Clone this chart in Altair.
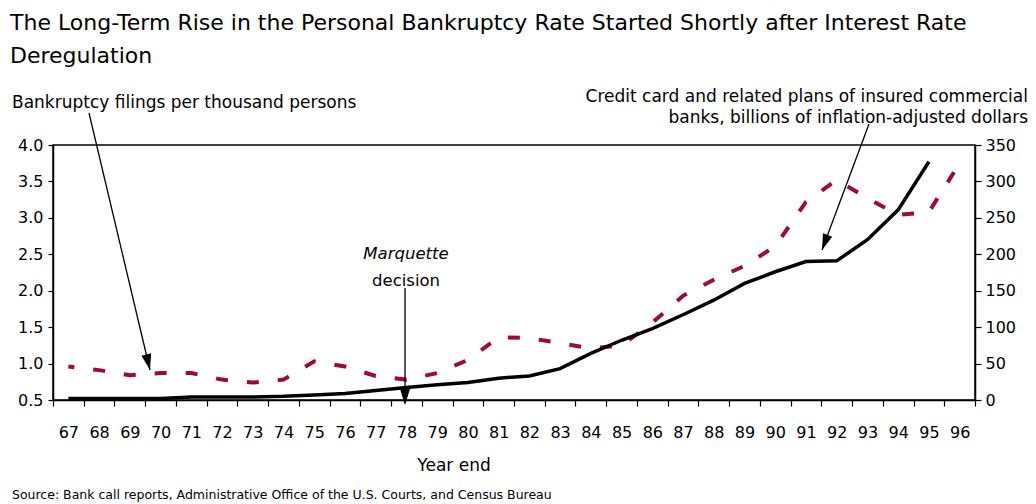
import altair as alt
import pandas as pd

# ---- data ----
years = ["67", "68", "69", "70", "71", "72", "73", "74", "75", "76",
         "77", "78", "79", "80", "81", "82", "83", "84", "85", "86",
         "87", "88", "89", "90", "91", "92", "93", "94", "95", "96"]
bankruptcy_rate = [0.96, 0.91, 0.84, 0.87, 0.87, 0.78, 0.74, 0.78, 1.03, 0.96,
                   0.83, 0.78, 0.87, 1.05, 1.36, 1.35, 1.28, 1.21, 1.25, 1.56,
                   1.93, 2.15, 2.34, 2.61, 3.22, 3.52, 3.27, 3.04, 3.08, 3.75]
credit_card = [2, 2, 2, 2, 4, 4, 4, 5, 7, 9,
               13, 17, 21, 24, 30, 33, 43, 64, 82, 98,
               117, 137, 160, 176, 190, 191, 220, 261, 327, None]
left_ticks = [0.5, 1.0, 1.5, 2.0, 2.5, 3.0, 3.5, 4.0]
right_ticks = [0, 50, 100, 150, 200, 250, 300, 350]

title_lines = ["The Long-Term Rise in the Personal Bankruptcy Rate Started Shortly after Interest Rate",
               "Deregulation"]
left_label = "Bankruptcy filings per thousand persons"
right_label = ["Credit card and related plans of insured commercial",
               "banks, billions of inflation-adjusted dollars"]
event_label = ["Marquette", "decision"]
x_title = "Year end"
source = "Source: Bank call reports, Administrative Office of the U.S. Courts, and Census Bureau"

df = pd.DataFrame({"year": years, "rate": bankruptcy_rate, "credit": credit_card})
one = pd.DataFrame({"k": [0]})

FONT = "DejaVu Sans"
W, H = 922, 255

x_enc = alt.X(
    "year:O",
    sort=years,
    bandPosition=0.5,
    scale=alt.Scale(type="band", paddingInner=0, paddingOuter=0),
    axis=alt.Axis(title=None, labelAngle=0, tickBand="extent", labelFont=FONT,
                  labelFontSize=16, labelColor="black", domainColor="black",
                  tickColor="black", tickSize=6, labelPadding=26,
                  labelBaseline="middle", domainWidth=1.5, tickWidth=1.2),
)

rate_line = alt.Chart(df).mark_line(
    color="#9e0b2e", strokeWidth=4, strokeDash=[12, 19], strokeDashOffset=6
).encode(
    x=x_enc,
    y=alt.Y("rate:Q", scale=alt.Scale(domain=[0.5, 4.0], nice=False, zero=False),
            axis=alt.Axis(title=None, orient="left", values=left_ticks, format=".1f",
                          grid=False, labelFont=FONT, labelFontSize=16,
                          labelColor="black", domainColor="black", tickColor="black",
                          tickSize=5, labelPadding=5, domainWidth=1.5, tickWidth=1.2)),
)

credit_line = alt.Chart(df).mark_line(color="black", strokeWidth=3.5).encode(
    x=x_enc,
    y=alt.Y("credit:Q", scale=alt.Scale(domain=[0, 350], nice=False),
            axis=alt.Axis(title=None, orient="right", values=right_ticks, format="d",
                          grid=False, labelFont=FONT, labelFontSize=16,
                          labelColor="black", domainColor="black", tickColor="black",
                          tickSize=6, labelPadding=4, domainWidth=1.5, tickWidth=1.2)),
)


def txt(text, x, y, size, align="left", style="normal", font=FONT, weight="normal"):
    return alt.Chart(one).mark_text(
        align=align, baseline="middle", font=font, fontSize=size,
        fontStyle=style, fontWeight=weight, color="black"
    ).encode(x=alt.value(x), y=alt.value(y), text=alt.value(text))


def seg(x1, y1, x2, y2, w=1.3):
    return alt.Chart(one).mark_rule(color="black", strokeWidth=w).encode(
        x=alt.value(x1), y=alt.value(y1), x2=alt.value(x2), y2=alt.value(y2))


def head(x, y, angle):
    return alt.Chart(one).mark_point(
        shape="M0,0 L-0.45,-1.45 L0.45,-1.45 Z", filled=True, color="black",
        opacity=1, size=484, angle=angle, strokeWidth=0
    ).encode(x=alt.value(x), y=alt.value(y))


annotations = [
    txt(title_lines[0], -43, -122, 22),
    txt(title_lines[1], -43, -89, 22),
    txt(left_label, -41, -42, 17),
    txt(right_label[0], 975, -48, 17, align="right"),
    txt(right_label[1], 975, -27, 17, align="right"),
    txt(event_label[0], 353, 109, 16.5, align="center", style="italic"),
    txt(event_label[1], 353, 136, 16.5, align="center"),
    txt(x_title, 401, 321, 17, align="center"),
    txt(source, -41, 350, 12.5),
    seg(36, -32, 97, 225),
    head(97, 225, 346.6),
    seg(816, -21, 769, 105),
    head(769, 105, 20.7),
    seg(352, 143, 352, 258),
    head(352, 260, 0),
]

chart = alt.layer(rate_line, credit_line, *annotations).resolve_scale(
    y="independent"
).properties(
    width=W, height=H,
    autosize=alt.AutoSizeParams(type="none"),
    padding={"left": 53, "top": 145, "right": 61, "bottom": 104},
    background="white",
).configure_view(stroke="black", strokeWidth=1.5)

chart.save("out.html", embed_options={"renderer": "svg", "actions": False})
